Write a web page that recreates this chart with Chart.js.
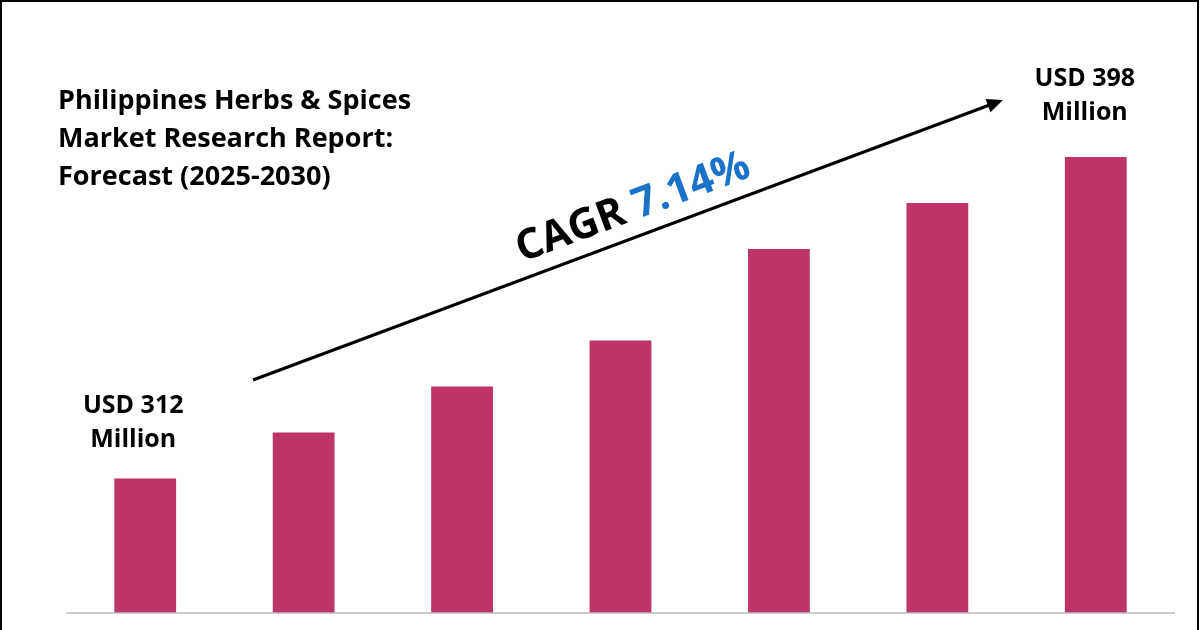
<!DOCTYPE html>
<html><head><meta charset="utf-8">
<script src="https://cdn.jsdelivr.net/npm/chart.js@4/dist/chart.umd.min.js"></script>
<style>html,body{margin:0;padding:0;background:#fff}#w{width:1200px;height:630px}</style>
</head><body><div id="w"><canvas id="c"></canvas></div>
<script>
const categories = ["2025","2026","2027","2028","2029","2030","2031"];
const values = [312, 324.3, 336.6, 348.9, 373.4, 385.7, 398];
const firstLabel = ["USD 312","Million"];
const lastLabel = ["USD 398","Million"];
const titleLines = ["Philippines Herbs & Spices","Market Research Report:","Forecast (2025-2030)"];
const cagr = "7.14%";

const deco = {
  id:'deco',
  afterDraw(ch){
    const c = ch.ctx, a = ch.chartArea, xs = ch.scales.x, ys = ch.scales.y;
    c.save();
    c.strokeStyle='#000'; c.lineWidth=2; c.strokeRect(1,1,1197,640);
    c.strokeStyle='#bbb'; c.lineWidth=1.5;
    c.beginPath(); c.moveTo(a.left,a.bottom); c.lineTo(a.right,a.bottom); c.stroke();
    c.fillStyle='#000'; c.font='bold 27px "Open Sans"'; c.textBaseline='middle';
    titleLines.forEach((t,i)=>c.fillText(t,58,101+i*38));
    c.textAlign='center'; c.font='bold 25px "Open Sans"';
    const x0 = xs.getPixelForValue(0), y0 = ys.getPixelForValue(values[0]);
    c.fillText(firstLabel[0],x0-12,y0-73); c.fillText(firstLabel[1],x0-12,y0-39);
    const x6 = xs.getPixelForValue(6), y6 = ys.getPixelForValue(values[6]);
    c.fillText(lastLabel[0],x6-11,y6-78); c.fillText(lastLabel[1],x6-11,y6-44);
    // arrow
    c.strokeStyle='#000'; c.lineWidth=3;
    const ax=253, ay=380, bx=1003, by=100, ang=Math.atan2(by-ay,bx-ax);
    c.beginPath(); c.moveTo(ax,ay); c.lineTo(bx-10*Math.cos(ang),by-10*Math.sin(ang)); c.stroke();
    c.fillStyle='#000'; c.beginPath(); c.moveTo(bx,by);
    c.lineTo(bx-16*Math.cos(ang)+7*Math.sin(ang), by-16*Math.sin(ang)-7*Math.cos(ang));
    c.lineTo(bx-16*Math.cos(ang)-7*Math.sin(ang), by-16*Math.sin(ang)+7*Math.cos(ang));
    c.closePath(); c.fill();
    // CAGR
    c.translate(633,208); c.rotate(ang);
    c.font='bold 42px "Open Sans"'; c.textAlign='left';
    const w1 = c.measureText("CAGR ").width, w2 = c.measureText(cagr).width;
    const s = -(w1+w2)/2;
    c.fillStyle='#000'; c.fillText("CAGR ",s,0);
    c.fillStyle='#1a73c8'; c.fillText(cagr,s+w1,0);
    c.restore();
  }
};

new Chart(document.getElementById('c'),{
  type:'bar',
  data:{labels:categories,datasets:[{data:values,backgroundColor:'#bc3468',barPercentage:0.39,categoryPercentage:1}]},
  options:{responsive:true,maintainAspectRatio:false,animation:false,
    layout:{padding:{left:66,right:25,top:0,bottom:17}},
    plugins:{legend:{display:false},tooltip:{enabled:false}},
    scales:{x:{display:false},y:{display:false,min:276,max:440}}},
  plugins:[deco]
});
</script></body></html>
